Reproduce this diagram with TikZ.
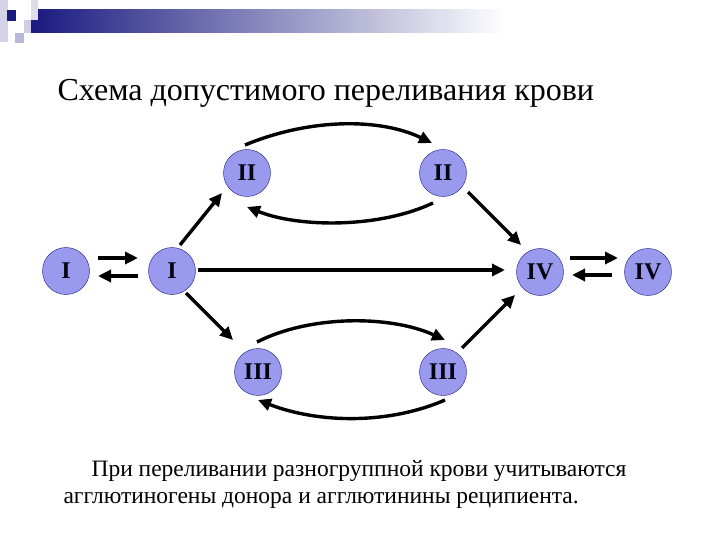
\documentclass[tikz,border=0pt]{standalone}
\usepackage{fontspec}
\setmainfont{Liberation Serif}
\usetikzlibrary{arrows.meta}
\definecolor{nodefill}{HTML}{9999EE}
\definecolor{navy}{HTML}{1A1A80}
\definecolor{lav}{HTML}{B8B8DA}
\begin{document}
\begin{tikzpicture}[x=1pt,y=-1pt,
  grp/.style={circle,draw=navy,fill=nodefill,minimum size=47pt,inner sep=0pt,font=\bfseries\fontsize{24}{24}\selectfont,text=black!85!navy},
  arr/.style={line width=3.4pt,-{Triangle[length=13pt,width=12pt]}}]
\useasboundingbox (0,0) rectangle (720,540);
% header decoration
\shade[left color=navy,right color=white] (31,10) rectangle (505,33);
\fill[lav!60] (0,0) rectangle (8,42);
\fill[lav!50] (31,0) rectangle (38,20);
\fill[lav] (15,33) rectangle (24,43);
\fill[lav!70] (24,20) rectangle (31,33);
\fill[navy] (7,10) rectangle (16,21);
% title
\node[anchor=base west,font=\fontsize{32}{32}\selectfont] (title) at (54,101) {Схема допустимого переливания крови};
% nodes
\node[grp] (I1) at (66,271) {I};
\node[grp] (I2) at (172,271) {I};
\node[grp] (II1) at (247,173) {II};
\node[grp] (II2) at (443,173) {II};
\node[grp] (IV1) at (540,272) {IV};
\node[grp] (IV2) at (648,272) {IV};
\node[grp] (III1) at (258,372) {III};
\node[grp] (III2) at (443,372) {III};
% pairs
\draw[arr] ([shift={(32,-13)}]I1.center) -- ([shift={(-34,-13)}]I2.center);
\draw[arr] ([shift={(-34,5)}]I2.center) -- ([shift={(32,5)}]I1.center);
\draw[arr] ([shift={(30,-14)}]IV1.center) -- ([shift={(-30,-14)}]IV2.center);
\draw[arr] ([shift={(-36,3)}]IV2.center) -- ([shift={(32,3)}]IV1.center);
% diagonals
\draw[arr] ([shift={(8,-26)}]I2.center) -- ([shift={(-25,20)}]II1.center);
\draw[arr] ([shift={(25,19)}]II2.center) -- ([shift={(-19,-27)}]IV1.center);
\draw[arr] ([shift={(26,-1)}]I2.center) -- ([shift={(-35,-2)}]IV1.center);
\draw[arr] ([shift={(14,22)}]I2.center) -- ([shift={(-25,-32)}]III1.center);
\draw[arr] ([shift={(19,-24)}]III2.center) -- ([shift={(-25,23)}]IV1.center);
% arcs
\draw[arr] ([shift={(-2,-28)}]II1.center) .. controls (310,118) and (380,118) .. ([shift={(-11,-30)}]II2.center);
\draw[arr] ([shift={(-10,30)}]II2.center) .. controls (380,228) and (300,228) .. ([shift={(0,34)}]II1.center);
\draw[arr] ([shift={(-1,-30)}]III1.center) .. controls (310,315) and (390,315) .. ([shift={(2,-32)}]III2.center);
\draw[arr] ([shift={(2,28)}]III2.center) .. controls (390,424) and (320,424) .. ([shift={(0,28)}]III1.center);
% caption
\node[anchor=base west,font=\fontsize{23.5}{23.5}\selectfont] (cap1) at (88,476) {При переливании разногруппной крови учитываются};
\node[anchor=base west,font=\fontsize{23.5}{23.5}\selectfont] (cap2) at (60,503) {агглютиногены донора и агглютинины реципиента.};
\end{tikzpicture}
\end{document}
